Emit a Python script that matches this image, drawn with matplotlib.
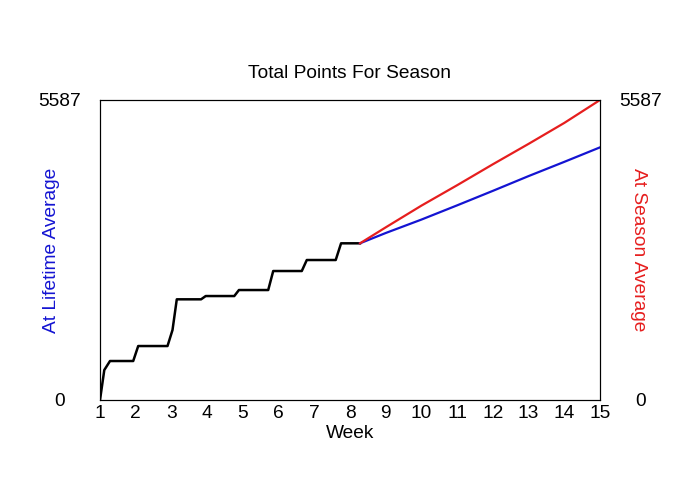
import matplotlib
matplotlib.use('Agg')
import matplotlib.pyplot as plt

plt.rcParams['font.family'] = ['Liberation Sans', 'DejaVu Sans']

# season so far (actual points)
week_actual = [1.0, 1.12, 1.28, 1.93, 2.07, 2.89, 3.03, 3.15, 3.83, 3.96,
               4.76, 4.89, 5.71, 5.85, 6.65, 6.79, 7.60, 7.75, 8.28]
pts_actual = [0, 558, 726, 726, 1005, 1005, 1303, 1875, 1875, 1936,
              1936, 2048, 2048, 2402, 2402, 2607, 2607, 2918, 2918]

# projections
week_proj = [8.28, 9, 10, 11, 12, 13, 14, 15]
pts_lifetime = [2918, 3110, 3360, 3625, 3895, 4170, 4435, 4705]
pts_season = [2918, 3215, 3620, 4000, 4390, 4770, 5160, 5587]

ymax = 5587
xticks = list(range(1, 16))
fs = 13.8

fig = plt.figure(figsize=(7, 5), dpi=100)
ax = fig.add_axes([100/700, 0.2, 500/700, 0.6])

ax.plot(week_actual, pts_actual, color='black', lw=1.8)
ax.plot(week_proj, pts_lifetime, color='#1414d2', lw=1.6)
ax.plot(week_proj, pts_season, color='#e61e1e', lw=1.6)

ax.set_xlim(1, 15)
ax.set_ylim(0, ymax)
ax.set_xticks(xticks)
ax.set_yticks([0, ymax])
ax.set_yticklabels(['0', str(ymax)], ha='center')
ax.tick_params(axis='x', length=0, pad=3.5, labelsize=fs)
ax.tick_params(axis='y', length=0, pad=29, labelsize=fs)

ax2 = ax.twinx()
ax2.set_ylim(0, ymax)
ax2.set_yticks([0, ymax])
ax2.set_yticklabels(['0', str(ymax)], ha='center')
ax2.tick_params(axis='y', length=0, pad=29, labelsize=fs)

ax.set_xlabel('Week', fontsize=fs, labelpad=2)
ax.set_ylabel('At Lifetime Average', color='#1414d2', fontsize=fs)
ax.yaxis.set_label_coords(-0.08, 0.5)
ax2.set_ylabel('At Season Average', color='#e61e1e', fontsize=fs, rotation=270, va='center')
ax2.yaxis.set_label_coords(1.076, 0.5)
ax.set_title('Total Points For Season', fontsize=fs, pad=16)

fig.savefig('out.png', dpi=100)
